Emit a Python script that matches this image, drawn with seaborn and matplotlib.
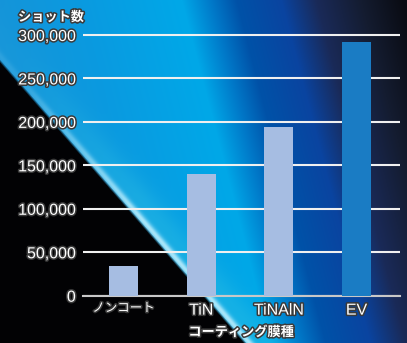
import numpy as np
import matplotlib
matplotlib.use("Agg")
import matplotlib.pyplot as plt
import matplotlib.patheffects as pe
from matplotlib.colors import to_rgb
import seaborn as sns

# ---- data ----
categories = ["ノンコート", "TiN", "TiNAlN", "EV"]
shots = [34000, 140000, 194000, 292000]
bar_colors = ["#a6bde2", "#a6bde2", "#a6bde2", "#1a7cc4"]
y_ticks = [0, 50000, 100000, 150000, 200000, 250000, 300000]
y_tick_labels = ["0", "50,000", "100,000", "150,000", "200,000", "250,000", "300,000"]
title_text = "ショット数"
xlabel_text = "コーティング膜種"

sns.set_theme(style="white")
plt.rcParams["font.family"] = ["Liberation Sans", "Noto Sans CJK JP", "DejaVu Sans"]

W, H = 407, 343
fig = plt.figure(figsize=(W / 100, H / 100), dpi=100)

# ---- decorative background ----
yy, xx = np.mgrid[0:H, 0:W].astype(float)
s = xx + 0.26 * (150 - yy)
stops = [(-60, "#2a94d4"), (0, "#1a92d6"), (120, "#0a9ae0"), (220, "#00a8e8"),
         (250, "#0078c8"), (275, "#0052a8"), (320, "#0a44a0"), (355, "#1a2a58"),
         (400, "#141c30"), (440, "#0a0c14"), (600, "#08090f")]
sp = np.array([p for p, _ in stops])
cols = np.array([to_rgb(c) for _, c in stops])
img = np.stack([np.interp(s, sp, cols[:, k]) for k in range(3)], axis=-1)

d = (yy - 60 - 1.15 * xx) / np.sqrt(1 + 1.15 ** 2)
strength = np.clip(xx / 140, 0.15, 1.0)
teal = np.array(to_rgb("#30c4e4"))
wide = 0.4 * strength * np.exp(-((d + 12) ** 2) / (2 * 12 ** 2)) * (d < 0)
img = img * (1 - wide[..., None]) + teal * wide[..., None]
glow_c = np.array(to_rgb("#a8e6fa"))
glow = strength * np.exp(-((d + 2.5) ** 2) / (2 * 2.5 ** 2))
img = img * (1 - glow[..., None]) + glow_c * glow[..., None]
dark = np.clip((d + 0.5) / 2.5, 0, 1)
black = np.array(to_rgb("#020204"))
img = img * (1 - dark[..., None]) + black * dark[..., None]
img = np.clip(img, 0, 1)

bg = fig.add_axes([0, 0, 1, 1], zorder=0)
bg.imshow(img, aspect="auto", interpolation="bilinear")
bg.axis("off")

# ---- chart ----
left = 82.7 / W
right = 400 / W
bottom = 1 - 295.7 / H
ymax = 305000
top_px = 295.7 - 260.7 * ymax / 300000
top = 1 - top_px / H
ax = fig.add_axes([left, bottom, right - left, top - bottom], zorder=1)
ax.set_facecolor("none")

sns.barplot(x=categories, y=shots, hue=categories, palette=bar_colors,
            width=0.373, legend=False, ax=ax, saturation=1, zorder=3,
            edgecolor="none", linewidth=0)

ax.set_ylim(0, ymax)
ax.set_xlim(-0.525, 3.56)
ax.set_yticks(y_ticks, y_tick_labels)
ax.yaxis.grid(True, color="#f0f0f0", linewidth=1.5, zorder=1)
ax.set_axisbelow(True)
for sp_name in ["top", "right", "left"]:
    ax.spines[sp_name].set_visible(False)
ax.spines["bottom"].set_color("#c8c8c8")
ax.spines["bottom"].set_linewidth(1.5)
ax.tick_params(axis="both", length=0)
ax.tick_params(axis="y", pad=5, labelsize=11.5, labelcolor="white")
ax.tick_params(axis="x", pad=5, labelsize=11.5, labelcolor="white")
ax.set_xlabel("")
ax.set_ylabel("")

stroke = [pe.withStroke(linewidth=2.2, foreground="#3a3a3a")]
for lab in ax.get_yticklabels() + ax.get_xticklabels():
    lab.set_path_effects(stroke)
    lab.set_color("white")
for lab in ax.get_xticklabels():
    if lab.get_text() == "ノンコート":
        lab.set_fontsize(9)

fig.text(18 / W, 1 - 17 / H, title_text, ha="left", va="center", fontsize=9.5,
         fontweight="bold", color="white", family=["Noto Sans CJK JP"],
         path_effects=stroke)
fig.text((left + right) / 2, 1 - 332 / H, xlabel_text, ha="center", va="center",
         fontsize=9.5, fontweight="bold", color="white", family=["Noto Sans CJK JP"],
         path_effects=stroke)

fig.savefig("out.png", dpi=100)
